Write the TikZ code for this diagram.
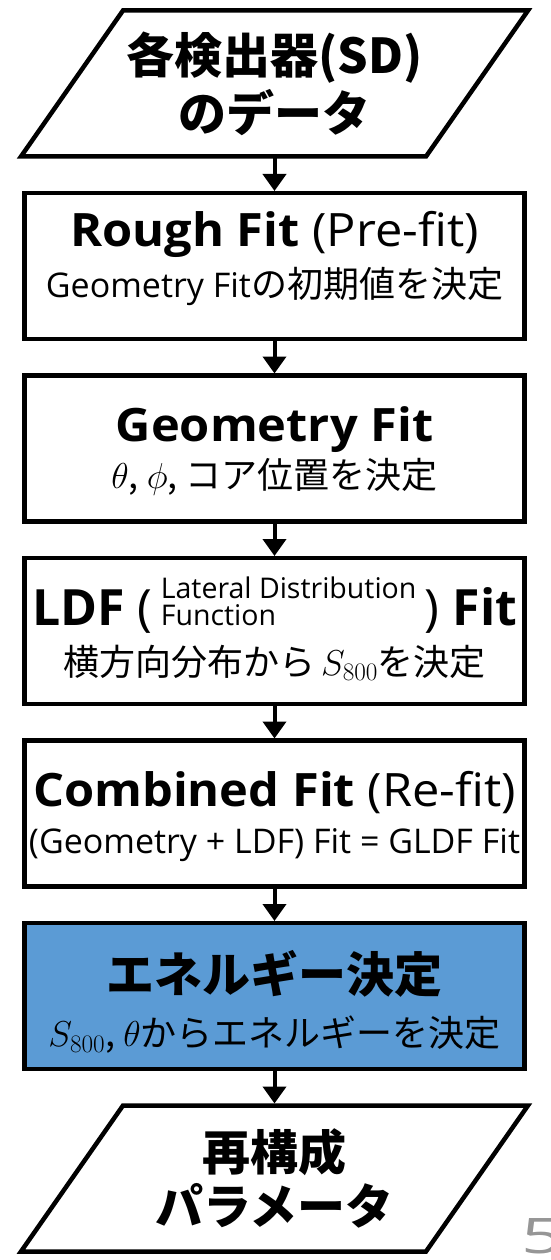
\RequirePackage{fix-cm}
\documentclass[tikz,border=0pt]{standalone}
\usepackage{fontspec}
\setmainfont{Open Sans}
\newfontfamily\jp{Noto Sans CJK JP}
\usepackage{tikz}
\usetikzlibrary{arrows.meta,positioning}
\definecolor{energyblue}{RGB}{91,155,213}
\definecolor{pagegrey}{RGB}{150,150,150}
\newcommand{\headsize}{\fontsize{46}{51}\selectfont\addfontfeature{FakeStretch=1.06}}
\newcommand{\ldfsize}{\fontsize{50}{51}\selectfont}
\newcommand{\subsize}{\fontsize{34}{51}\selectfont}
\newcommand{\jpsub}{\jp\fontsize{36}{51}\selectfont}
\newcommand{\jpsize}{\fontsize{48}{56}\selectfont}
\newcommand{\twoline}[2]{{\fontsize{28.5}{19}\selectfont
  \begin{tabular}[b]{@{}l@{}}#1\\#2\end{tabular}}}
% outline of an input/output node (parallelogram)
\newcommand{\ioframe}[1]{%
  \draw[line width=4.5pt, line join=miter]
    ([xshift=51pt]#1.north west) -- ([xshift=51pt]#1.north east) --
    ([xshift=-51pt]#1.south east) -- ([xshift=-51pt]#1.south west) -- cycle;}

\begin{document}
\begin{tikzpicture}[x=1pt,y=-1pt,
    node distance=36.5pt,
    stage/.style={rectangle, draw=black, line width=4.5pt, fill=#1,
      minimum width=500pt, minimum height=146pt, inner sep=0pt, outer sep=0pt},
    stage/.default=white,
    stagetext/.style={align=center, inner sep=0pt, font=\fontsize{34}{#1}\selectfont},
    iobox/.style={rectangle, minimum width=405pt, minimum height=146pt,
      inner sep=0pt, outer sep=0pt, align=center,
      font=\jp\bfseries\fontsize{48}{#1}\selectfont},
    flow/.style={-{Triangle[length=17pt,width=23pt]}, line width=4pt, shorten >=2pt}
]
    \useasboundingbox (0,0) rectangle (551,1260);

    % Input: detector data
    \node[iobox=58] (sd) at (274.5,83.5) {各検出器(SD)\\のデータ};
    \ioframe{sd}

    % Fitting stages
    \node[stage, below=of sd] (rough) {};
    \node[stagetext=51] (roughtext) at ([yshift=8pt]rough.center)
        {\headsize\textbf{Rough Fit} (Pre-fit)\\\subsize Geometry Fit\jpsub の初期値を決定};

    \node[stage, below=of rough] (geom) {};
    \node[stagetext=47] (geomtext) at ([yshift=-3pt]geom.center)
        {\headsize\textbf{Geometry Fit}\\\jpsub $\theta$, $\phi$, コア位置を決定};

    \node[stage, below=of geom] (ldf) {};
    \node[stagetext=50] (ldftext) at ([yshift=2pt]ldf.center)
        {\ldfsize\textbf{LDF} (\,\twoline{Lateral Distribution}{Function}\,) \textbf{Fit}\\
         \jpsub 横方向分布から\,$S_{800}$を決定};

    \node[stage, below=of ldf] (comb) {};
    \node[stagetext=47] (combtext) at ([yshift=-3pt]comb.center)
        {\headsize\textbf{Combined Fit} (Re-fit)\\\subsize (Geometry + LDF) Fit = GLDF Fit};

    \node[stage=energyblue, below=of comb] (energy) {};
    \node[stagetext=54] (energytext) at ([yshift=-6pt]energy.center)
        {\jp\jpsize\bfseries エネルギー決定\\\jpsub $S_{800}$, $\theta$からエネルギーを決定};

    % Output: reconstructed parameters
    \node[iobox=54, below=of energy] (params) {再構成\\パラメータ};
    \ioframe{params}

    % connectors
    \foreach \a/\b in {sd/rough, rough/geom, geom/ldf, ldf/comb, comb/energy, energy/params} {
        \draw[flow] (\a.south) -- (\b.north);
    }

    % page number (cut off by the slide edge)
    \node[anchor=west, inner sep=0pt, text=pagegrey, font=\fontsize{49}{49}\selectfont]
        (pagenum) at (521,1236) {\scalebox{1.5}[1]{5}};
\end{tikzpicture}
\end{document}
